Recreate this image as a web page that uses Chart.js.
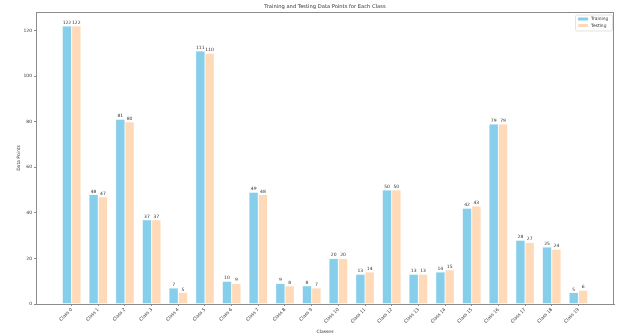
<!DOCTYPE html>
<html>
<head>
<meta charset="utf-8">
<script src="https://cdn.jsdelivr.net/npm/chart.js@4"></script>
<style>
  html, body { margin: 0; padding: 0; background: #fff; }
  #wrap { width: 625px; height: 335px; }
</style>
</head>
<body>
<div id="wrap"><canvas id="chart" width="625" height="335"></canvas></div>
<script>
// Training / testing counts per class

const CLASS_LABELS = ['Class 0', 'Class 1', 'Class 2', 'Class 3', 'Class 4', 'Class 5', 'Class 6',
  'Class 7', 'Class 8', 'Class 9', 'Class 10', 'Class 11', 'Class 12', 'Class 13', 'Class 14',
  'Class 15', 'Class 16', 'Class 17', 'Class 18', 'Class 19'];
const TRAIN_COUNTS = [122, 48, 81, 37, 7, 111, 10, 49, 9, 8, 20, 13, 50, 13, 14, 42, 79, 28, 25, 5];
const TEST_COUNTS = [122, 47, 80, 37, 5, 110, 9, 48, 8, 7, 20, 14, 50, 13, 15, 43, 79, 27, 24, 6];
const Y_TICKS = [0, 20, 40, 60, 80, 100, 120];

const COLORS = {
  train: '#87ceeb',
  test: '#ffdab9',
  axis: '#8c8c8c',
  text: '#333',
};
const FONT = 'DejaVu Sans';

// ── Plugins ───────────────────────────────────────────────

// top/right spines + title
const frame = {
  id: 'frame',
  afterDraw(chart) {
    const { ctx, chartArea: a } = chart;
    ctx.save();
    ctx.strokeStyle = COLORS.axis;
    ctx.lineWidth = 1;
    ctx.strokeRect(a.left + 0.5, a.top + 0.5, a.right - a.left - 1, a.bottom - a.top);
    ctx.fillStyle = COLORS.text;
    ctx.font = `5.2px "${FONT}"`;
    ctx.textAlign = 'center';
    ctx.textBaseline = 'bottom';
    ctx.fillText('Training and Testing Data Points for Each Class', (a.left + a.right) / 2, a.top - 3);
    ctx.restore();
  },
};

// value above each bar
const barLabels = {
  id: 'barLabels',
  afterDatasetsDraw(chart) {
    const { ctx } = chart;
    ctx.save();
    ctx.fillStyle = COLORS.text;
    ctx.font = `4.5px "${FONT}"`;
    ctx.textAlign = 'center';
    ctx.textBaseline = 'bottom';
    chart.data.datasets.forEach((ds, di) => {
      chart.getDatasetMeta(di).data.forEach((bar, i) => {
        ctx.fillText(String(ds.data[i].y), bar.x, bar.y - 1);
      });
    });
    ctx.restore();
  },
};

// legend box in the upper right of the axes
const legendBox = {
  id: 'legendBox',
  afterDraw(chart) {
    const { ctx, chartArea: a } = chart;
    const w = 37, h = 16;
    const x = a.right - w - 2, y = a.top + 2.5;
    ctx.save();
    ctx.fillStyle = 'rgba(255,255,255,0.85)';
    ctx.strokeStyle = '#dcdcdc';
    ctx.lineWidth = 0.8;
    ctx.beginPath();
    ctx.roundRect(x + 0.5, y + 0.5, w, h, 1.5);
    ctx.fill();
    ctx.stroke();
    ctx.font = `4.4px "${FONT}"`;
    ctx.textBaseline = 'middle';
    chart.data.datasets.forEach((ds, i) => {
      const ry = y + 4.5 + i * 6.5;
      ctx.fillStyle = ds.backgroundColor;
      ctx.fillRect(x + 3, ry - 1.5, 10, 3);
      ctx.fillStyle = COLORS.text;
      ctx.fillText(ds.label, x + 16, ry);
    });
    ctx.restore();
  },
};

// ── Chart ─────────────────────────────────────────────────

const tickFont = { family: FONT, size: 4.5 };

new Chart(document.getElementById('chart'), {
  type: 'bar',
  data: {
    datasets: [{
      label: 'Training',
      data: TRAIN_COUNTS.map((v, i) => ({ x: i, y: v })),
      backgroundColor: COLORS.train,
      borderColor: '#d8f0f8',
      borderWidth: 0.5,
    }, {
      label: 'Testing',
      data: TEST_COUNTS.map((v, i) => ({ x: i, y: v })),
      backgroundColor: COLORS.test,
      borderColor: '#fff4ea',
      borderWidth: 0.5,
    }],
  },
  options: {
    responsive: false,
    animation: false,
    devicePixelRatio: 1,
    layout: { padding: { left: 0, right: 11, top: 12, bottom: 0 } },
    categoryPercentage: 0.7,
    barPercentage: 1.0,
    plugins: { legend: { display: false }, tooltip: { enabled: false } },
    scales: {
      x: {
        type: 'linear',
        offset: false,
        min: -1.335,
        max: 20.335,
        afterBuildTicks: scale => { scale.ticks = CLASS_LABELS.map((_, i) => ({ value: i })); },
        afterFit: scale => { scale.height = 31; },
        grid: { offset: false, drawOnChartArea: false, drawTicks: true, tickLength: 2, color: COLORS.axis },
        border: { display: true, color: COLORS.axis, width: 1 },
        ticks: {
          autoSkip: false,
          minRotation: 45,
          maxRotation: 45,
          padding: 1,
          color: COLORS.text,
          font: tickFont,
          callback: v => CLASS_LABELS[v],
        },
        title: { display: true, text: 'Classes', color: COLORS.text, font: tickFont, padding: { top: 2, bottom: 0 } },
      },
      y: {
        min: 0,
        max: 128.1,
        afterBuildTicks: scale => { scale.ticks = Y_TICKS.map(v => ({ value: v })); },
        afterFit: scale => { scale.width = 36; },
        grid: { drawOnChartArea: false, drawTicks: true, tickLength: 2, color: COLORS.axis },
        border: { display: true, color: COLORS.axis, width: 1 },
        ticks: { color: COLORS.text, font: tickFont, padding: 2 },
        title: { display: true, text: 'Data Points', color: COLORS.text, font: tickFont, padding: { top: 16, bottom: 0 } },
      },
    },
  },
  plugins: [frame, barLabels, legendBox],
});
</script>
</body>
</html>
